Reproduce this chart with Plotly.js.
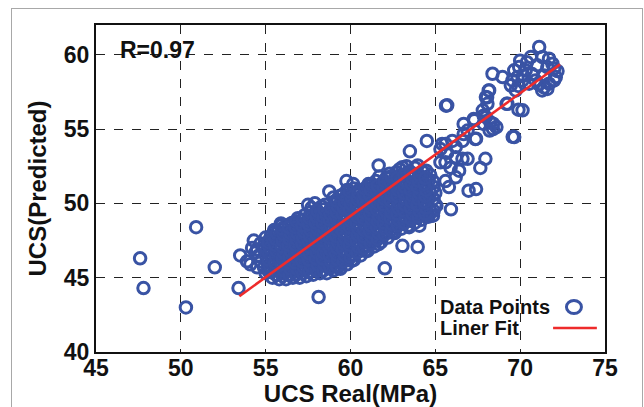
<!DOCTYPE html>
<html>
<head>
<meta charset="utf-8">
<script src="https://cdn.plot.ly/plotly-3.0.1.min.js"></script>
<style>
html,body{margin:0;padding:0;background:#fff;}
#wrap{position:relative;width:644px;height:407px;overflow:hidden;}
#chart{position:absolute;left:0;top:0;width:644px;height:407px;}
#frame{position:absolute;left:11px;top:8px;width:630px;height:420px;border:1px solid #a8a8a8;pointer-events:none;}
</style>
</head>
<body>
<div id="wrap"><div id="frame"></div><div id="chart"></div></div>
<script>
// Data (main cloud, edges and outliers)
const ucsReal = [
 54.5,54.7,54.6,54.5,54.7,
 55.0,54.9,55.1,55.0,54.9,55.1,55.0,
 55.4,55.3,55.5,55.4,55.3,55.5,55.4,55.3,55.5,
 55.8,55.9,55.7,55.8,55.9,55.7,55.8,55.9,55.7,55.9,
 56.2,56.1,56.3,56.2,56.1,56.3,56.2,56.1,56.3,56.2,
 56.6,56.7,56.5,56.6,56.7,56.5,56.6,56.7,56.5,56.6,
 57.0,56.9,57.1,57.0,56.9,57.1,57.0,56.9,57.1,57.0,56.9,
 57.4,57.3,57.5,57.4,57.3,57.5,57.4,57.3,57.5,57.4,57.3,
 57.8,57.9,57.7,57.8,57.9,57.7,57.8,57.9,57.7,57.8,57.9,57.7,
 58.2,58.1,58.3,58.2,58.1,58.3,58.2,58.1,58.3,58.2,58.1,58.3,
 58.6,58.7,58.5,58.6,58.7,58.5,58.6,58.7,58.5,58.6,58.7,58.5,
 59.0,58.9,59.1,59.0,58.9,59.1,59.0,58.9,59.1,59.0,58.9,59.1,59.0,
 59.4,59.3,59.5,59.4,59.3,59.5,59.4,59.3,59.5,59.4,59.3,59.5,59.4,
 59.8,59.9,59.7,59.8,59.9,59.7,59.8,59.9,59.7,59.8,59.9,59.7,59.8,
 60.2,60.1,60.3,60.2,60.1,60.3,60.2,60.1,60.3,60.2,60.1,60.3,60.2,
 60.6,60.7,60.5,60.6,60.7,60.5,60.6,60.7,60.5,60.6,60.7,60.5,
 61.0,60.9,61.1,61.0,60.9,61.1,61.0,60.9,61.1,61.0,60.9,61.1,
 61.4,61.3,61.5,61.4,61.3,61.5,61.4,61.3,61.5,61.4,61.3,61.5,
 61.8,61.9,61.7,61.8,61.9,61.7,61.8,61.9,61.7,61.8,61.9,61.7,
 62.2,62.1,62.3,62.2,62.1,62.3,62.2,62.1,62.3,62.2,62.1,62.3,
 62.6,62.7,62.5,62.6,62.7,62.5,62.6,62.7,62.5,62.6,62.7,
 63.0,62.9,63.1,63.0,62.9,63.1,63.0,62.9,63.1,63.0,62.9,
 63.4,63.3,63.5,63.4,63.3,63.5,63.4,63.3,63.5,63.4,63.3,
 63.8,63.9,63.7,63.8,63.9,63.7,63.8,63.9,63.7,63.8,
 64.2,64.1,64.3,64.2,64.1,64.3,64.2,64.1,64.3,
 64.6,64.7,64.5,64.6,64.7,64.5,64.6,64.7,
 64.9,65.0,64.9,65.0,64.9,
 47.6,47.8,50.3,50.9,52.0,53.4,53.5,53.9,54.1,54.3,54.4,54.2,55.2,55.5,55.9,56.5,56.7,57.5,57.9,58.75,59.25,58.26,58.12,
 59.76,60.16,61.06,61.66,62.26,63.06,63.5,63.96,64.46,64.86,64.86,65.06,64.06,63.46,63.06,63.96,62.02,62.46,61.66,60.86,60.06,59.26,
 65.63,66.67,67.26,67.85,67.85,68.24,68.4,68.05,68.15,69.2,69.56,69.9,67.36,66.67,64.5,65.4,66.0,65.3,65.7,66.2,66.6,66.9,67.95,67.65,
 65.3,65.6,65.9,66.4,66.2,65.6,65.8,66.96,67.4,65.92,64.4,64.2,64.5,
 71.12,70.63,71.32,71.7,71.6,72.0,72.1,72.0,71.7,71.4,71.3,70.9,70.7,70.33,69.94,69.65,69.84,69.55,69.45,69.74,70.14,70.53,68.96,68.37,
 68.17,67.98,68.07,67.8,69.25,70.14,69.65,67.98,68.4,68.6,68.2,67.3,66.9,67.4,66.6,65.7,66.2,65.6,
 71.0,70.4,71.9,72.2,70.0,71.4,70.2,69.9,71.1,71.6
];
const ucsPred = [
 45.7,46.1,46.5,46.9,47.3,
 45.3,45.7,46.1,46.5,46.9,47.3,47.7,
 45.0,45.4,45.8,46.2,46.6,47.0,47.4,47.8,48.1,
 44.9,45.3,45.7,46.1,46.5,46.9,47.3,47.7,48.1,48.5,
 44.9,45.3,45.6,46.0,46.4,46.8,47.2,47.6,48.0,48.5,
 45.0,45.4,45.8,46.2,46.6,47.0,47.4,47.8,48.2,48.7,
 45.0,45.4,45.8,46.2,46.6,47.0,47.4,47.8,48.2,48.6,49.0,
 45.1,45.5,45.9,46.3,46.7,47.1,47.5,47.9,48.3,48.7,49.2,
 45.2,45.6,46.0,46.4,46.8,47.2,47.6,48.0,48.4,48.8,49.3,49.7,
 45.3,45.7,46.1,46.5,46.9,47.3,47.7,48.1,48.5,48.9,49.3,49.8,
 45.3,45.7,46.1,46.5,46.9,47.3,47.7,48.1,48.5,48.9,49.4,49.9,
 45.5,45.9,46.3,46.7,47.1,47.5,47.9,48.3,48.7,49.1,49.5,50.0,50.4,
 45.6,46.0,46.4,46.8,47.2,47.6,48.0,48.4,48.8,49.2,49.6,50.0,50.5,
 45.9,46.3,46.7,47.1,47.5,47.9,48.3,48.7,49.1,49.5,49.9,50.4,50.9,
 46.2,46.6,47.0,47.4,47.8,48.2,48.6,49.0,49.4,49.8,50.2,50.6,51.0,
 46.5,46.9,47.3,47.7,48.1,48.5,48.9,49.3,49.7,50.1,50.5,50.9,
 46.8,47.2,47.6,48.0,48.4,48.8,49.2,49.6,50.0,50.4,50.8,51.2,
 47.1,47.5,47.9,48.3,48.7,49.1,49.5,49.9,50.3,50.7,51.1,51.5,
 47.4,47.8,48.2,48.6,49.0,49.4,49.8,50.2,50.6,51.0,51.4,51.8,
 47.7,48.1,48.5,48.9,49.3,49.7,50.1,50.5,50.9,51.3,51.7,52.0,
 48.0,48.4,48.8,49.2,49.6,50.0,50.4,50.8,51.2,51.6,52.1,
 48.3,48.7,49.1,49.5,49.9,50.3,50.7,51.1,51.5,51.9,52.3,
 48.5,48.9,49.3,49.7,50.1,50.5,50.9,51.3,51.7,52.1,52.5,
 48.7,49.1,49.5,49.9,50.3,50.7,51.1,51.5,51.9,52.4,
 48.9,49.3,49.7,50.1,50.5,50.9,51.3,51.7,52.1,
 49.1,49.5,49.9,50.3,50.7,51.1,51.5,51.9,
 49.5,49.9,50.3,50.7,51.1,
 46.3,44.3,43.0,48.4,45.7,44.3,46.5,46.1,45.9,47.5,46.7,47.0,47.5,48.2,48.65,48.65,48.0,49.9,50.0,50.8,50.2,49.2,43.7,
 51.5,51.3,51.3,52.55,51.75,52.43,53.5,52.55,52.2,51.5,49.17,49.84,48.5,48.4,47.14,47.07,45.63,48.04,47.25,46.8,46.13,45.68,
 56.57,55.34,55.67,55.9,55.34,55.45,55.0,57.13,57.6,56.7,54.48,56.3,54.33,54.66,54.2,54.0,54.2,53.65,53.4,53.1,53.0,53.0,53.0,52.38,
 52.76,52.76,52.4,52.2,51.75,51.5,51.1,50.85,50.96,49.6,51.1,51.75,49.2,
 60.52,59.84,59.84,59.73,59.17,59.06,58.5,58.27,58.05,57.8,57.6,58.27,58.7,58.95,59.17,58.95,58.5,58.27,57.94,57.6,58.27,58.05,58.5,58.72,
 57.6,57.15,56.7,56.26,56.7,56.26,54.46,55.8,55.36,55.13,54.9,55.6,54.9,54.35,54.2,56.6,53.8,54.0,
 59.3,59.5,59.4,58.9,59.6,58.6,58.6,57.9,58.0,57.7
];
// Data (dense interior of the cloud)
const ucsReal2 = [
 55.2,55.25,55.15,55.2,55.25,55.15,
 55.6,55.65,55.55,55.6,55.65,55.55,55.6,55.65,
 56.0,56.05,55.95,56.0,56.05,55.95,56.0,56.05,55.95,
 56.4,56.45,56.35,56.4,56.45,56.35,56.4,56.45,56.35,
 56.8,56.85,56.75,56.8,56.85,56.75,56.8,56.85,56.75,56.8,
 57.2,57.25,57.15,57.2,57.25,57.15,57.2,57.25,57.15,57.2,
 57.6,57.65,57.55,57.6,57.65,57.55,57.6,57.65,57.55,57.6,57.65,
 58.0,58.05,57.95,58.0,58.05,57.95,58.0,58.05,57.95,58.0,58.05,
 58.4,58.45,58.35,58.4,58.45,58.35,58.4,58.45,58.35,58.4,58.45,
 58.8,58.85,58.75,58.8,58.85,58.75,58.8,58.85,58.75,58.8,58.85,
 59.2,59.25,59.15,59.2,59.25,59.15,59.2,59.25,59.15,59.2,59.25,59.15,
 59.6,59.65,59.55,59.6,59.65,59.55,59.6,59.65,59.55,59.6,59.65,59.55,
 60.0,60.05,59.95,60.0,60.05,59.95,60.0,60.05,59.95,60.0,60.05,59.95,
 60.4,60.45,60.35,60.4,60.45,60.35,60.4,60.45,60.35,60.4,60.45,
 60.8,60.85,60.75,60.8,60.85,60.75,60.8,60.85,60.75,60.8,60.85,
 61.2,61.25,61.15,61.2,61.25,61.15,61.2,61.25,61.15,61.2,61.25,
 61.6,61.65,61.55,61.6,61.65,61.55,61.6,61.65,61.55,61.6,
 62.0,62.05,61.95,62.0,62.05,61.95,62.0,62.05,61.95,62.0,
 62.4,62.45,62.35,62.4,62.45,62.35,62.4,62.45,62.35,62.4,
 62.8,62.85,62.75,62.8,62.85,62.75,62.8,62.85,62.75,
 63.2,63.25,63.15,63.2,63.25,63.15,63.2,63.25,63.15,
 63.6,63.65,63.55,63.6,63.65,63.55,63.6,63.65,63.55,
 64.0,64.05,63.95,64.0,64.05,63.95,64.0,64.05,
 64.4,64.45,64.35,64.4,64.45,64.35,64.4
];
const ucsPred2 = [
 45.4,45.8,46.2,46.6,47.0,47.4,
 45.2,45.6,46.0,46.4,46.8,47.2,47.6,48.0,
 45.1,45.5,45.9,46.3,46.7,47.1,47.5,47.9,48.3,
 45.2,45.6,46.0,46.4,46.8,47.2,47.6,48.0,48.4,
 45.2,45.6,46.0,46.4,46.8,47.2,47.6,48.0,48.4,48.8,
 45.3,45.7,46.1,46.5,46.9,47.3,47.7,48.1,48.5,48.9,
 45.4,45.8,46.2,46.6,47.0,47.4,47.8,48.2,48.6,49.0,49.4,
 45.5,45.9,46.3,46.7,47.1,47.5,47.9,48.3,48.7,49.1,49.5,
 45.5,45.9,46.3,46.7,47.1,47.5,47.9,48.3,48.7,49.1,49.6,
 45.7,46.1,46.5,46.9,47.3,47.7,48.1,48.5,48.9,49.3,49.7,
 45.8,46.2,46.6,47.0,47.4,47.8,48.2,48.6,49.0,49.4,49.8,50.2,
 46.1,46.5,46.9,47.3,47.7,48.1,48.5,48.9,49.3,49.7,50.1,50.6,
 46.4,46.8,47.2,47.6,48.0,48.4,48.8,49.2,49.6,50.0,50.4,50.8,
 46.7,47.1,47.5,47.9,48.3,48.7,49.1,49.5,49.9,50.3,50.7,
 47.0,47.4,47.8,48.2,48.6,49.0,49.4,49.8,50.2,50.6,51.0,
 47.3,47.7,48.1,48.5,48.9,49.3,49.7,50.1,50.5,50.9,51.3,
 47.6,48.0,48.4,48.8,49.2,49.6,50.0,50.4,50.8,51.2,
 47.9,48.3,48.7,49.1,49.5,49.9,50.3,50.7,51.1,51.5,
 48.2,48.6,49.0,49.4,49.8,50.2,50.6,51.0,51.4,51.8,
 48.5,48.9,49.3,49.7,50.1,50.5,50.9,51.3,51.7,
 48.7,49.1,49.5,49.9,50.3,50.7,51.1,51.5,51.9,
 48.9,49.3,49.7,50.1,50.5,50.9,51.3,51.7,52.1,
 49.1,49.5,49.9,50.3,50.7,51.1,51.5,51.9,
 49.3,49.7,50.1,50.5,50.9,51.3,51.7
];
const fitX = [53.45, 72.35];
const fitY = [43.75, 59.35];
const xTicks = [45, 50, 55, 60, 65, 70, 75];
const yTicks = [40, 45, 50, 55, 60];

const blue = '#3953a4';
const red = '#ee2b2b';
const fontFam = '"Liberation Sans", Arial, Helvetica, sans-serif';

const traces = [
  {x: ucsReal.concat(ucsReal2), y: ucsPred.concat(ucsPred2), type: 'scatter', mode: 'markers', name: 'Data Points',
   marker: {symbol: 'circle-open', size: 11.5, color: blue, line: {width: 3, color: blue}}},
  {x: fitX, y: fitY, type: 'scatter', mode: 'lines', name: 'Liner Fit',
   line: {color: red, width: 2.6}}
];

const axisCommon = {
  showline: true, mirror: true, linecolor: '#111', linewidth: 2,
  showgrid: true, gridcolor: '#222', gridwidth: 1, griddash: 'dash',
  zeroline: false, ticks: '', tickmode: 'array',
  tickfont: {family: fontFam, size: 23, color: '#111', weight: 'bold'}
};

const layout = {
  width: 644, height: 407,
  margin: {l: 96, r: 39, t: 25, b: 55},
  paper_bgcolor: 'rgba(0,0,0,0)', plot_bgcolor: '#fff',
  showlegend: false,
  xaxis: Object.assign({}, axisCommon, {
    range: [45, 75], tickvals: xTicks, ticktext: xTicks.map(String),
    ticklabelstandoff: -6,
    title: {text: 'UCS Real(MPa)', standoff: 0, font: {family: fontFam, size: 24, color: '#111', weight: 'bold'}}
  }),
  yaxis: Object.assign({}, axisCommon, {
    range: [40, 62], tickvals: yTicks, ticktext: yTicks.map(String),
    title: {text: 'UCS(Predicted)', standoff: 10, font: {family: fontFam, size: 24, color: '#111', weight: 'bold'}}
  }),
  annotations: [
    {text: 'R=0.97', xref: 'paper', yref: 'paper', x: 0.043, y: 0.924, xanchor: 'left', yanchor: 'middle',
     showarrow: false, font: {family: fontFam, size: 23, color: '#111', weight: 'bold'}},
    {text: 'Data Points', xref: 'paper', yref: 'paper', x: 0.672, y: 0.1376, xanchor: 'left', yanchor: 'middle',
     showarrow: false, font: {family: fontFam, size: 20, color: '#111', weight: 'bold'}},
    {text: 'Liner Fit', xref: 'paper', yref: 'paper', x: 0.672, y: 0.0734, xanchor: 'left', yanchor: 'middle',
     showarrow: false, font: {family: fontFam, size: 20, color: '#111', weight: 'bold'}}
  ],
  shapes: [
    {type: 'circle', xref: 'paper', yref: 'paper', xsizemode: 'pixel', ysizemode: 'pixel',
     xanchor: 0.939, yanchor: 0.1376, x0: -7.5, x1: 7.5, y0: -6.5, y1: 6.5,
     line: {color: blue, width: 3}},
    {type: 'line', xref: 'paper', yref: 'paper', x0: 0.898, x1: 0.984, y0: 0.0734, y1: 0.0734,
     line: {color: red, width: 2.6}}
  ]
};

Plotly.newPlot('chart', traces, layout, {staticPlot: true, displayModeBar: false});
</script>
</body>
</html>
